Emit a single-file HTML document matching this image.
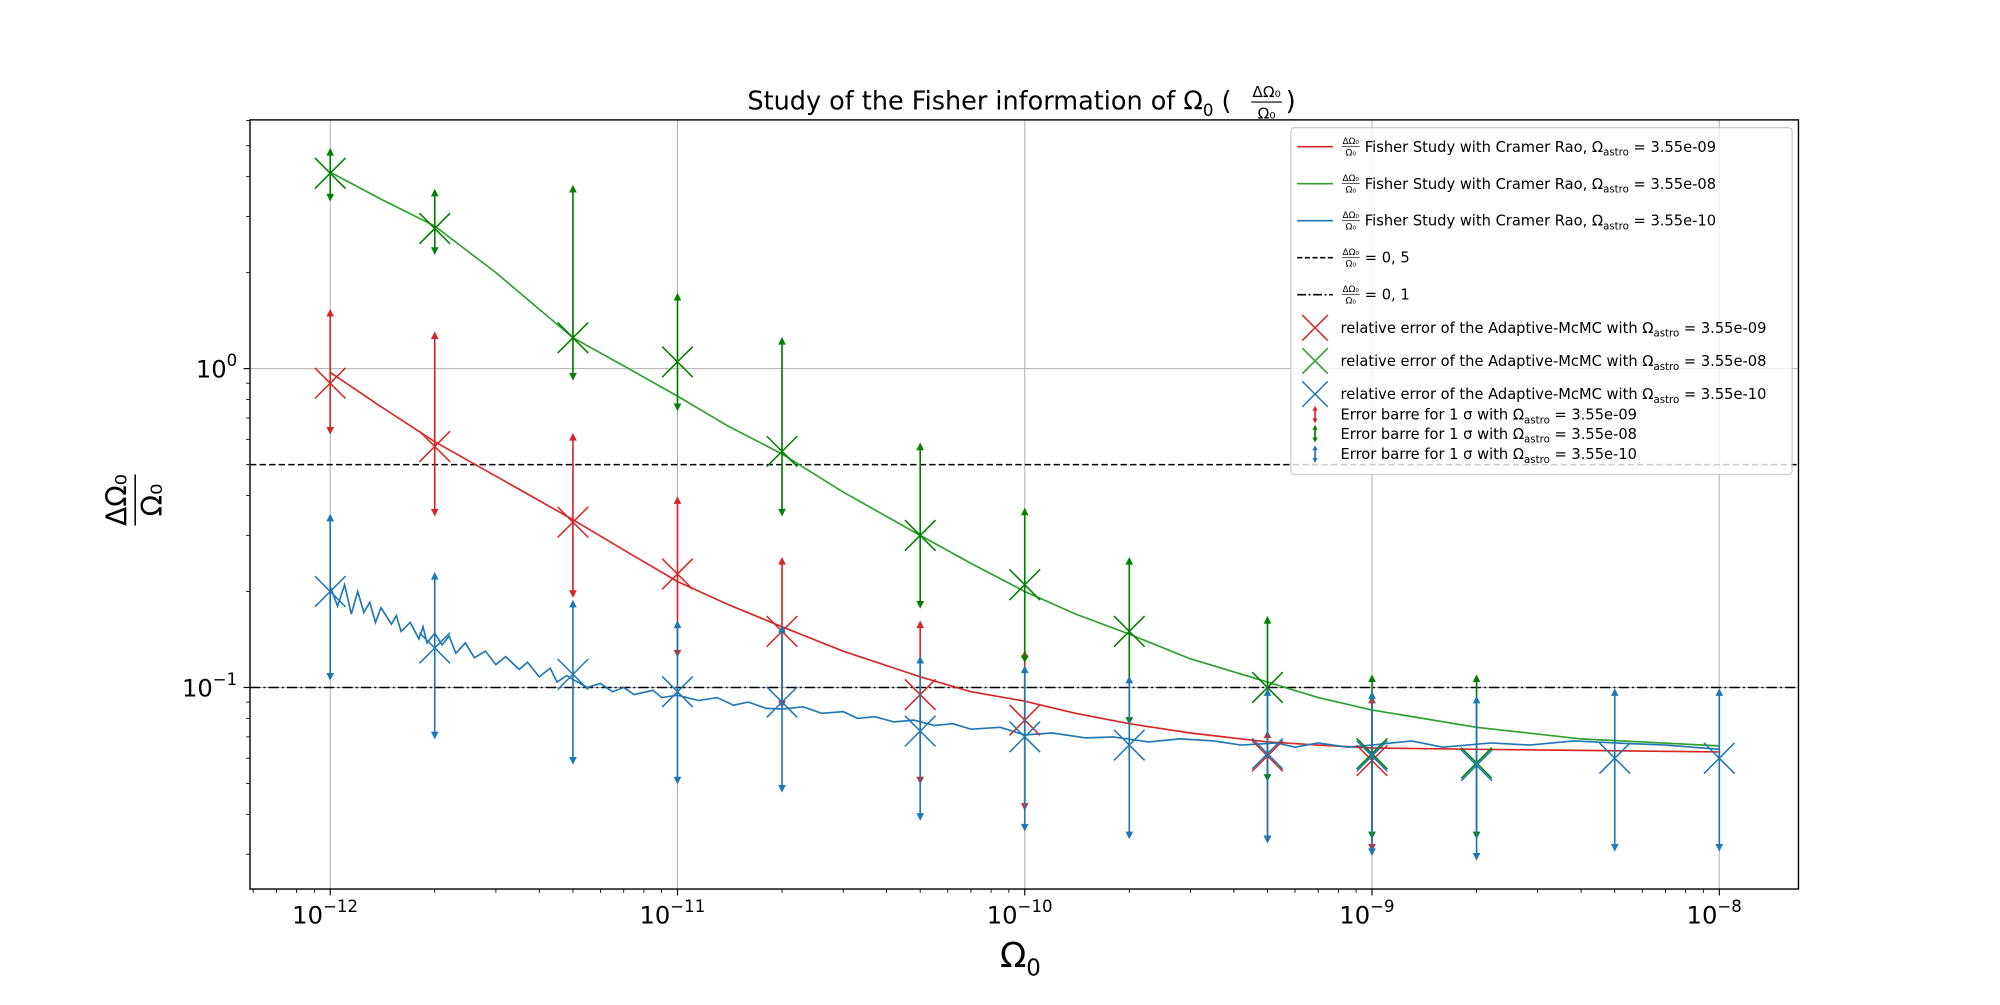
<!DOCTYPE html>
<html><head><meta charset="utf-8"><style>
body{margin:0;background:#fff;}
svg text{font-family:"DejaVu Sans","Liberation Sans",sans-serif;}
</style></head><body>
<svg id="chart" width="2000" height="1000" viewBox="0 0 1568 784" xmlns="http://www.w3.org/2000/svg">
<rect width="1568" height="784" fill="#fff"/>
<g id="grid"></g>
<g id="series"></g>
<rect x="196" y="94" width="1214" height="603" fill="none" stroke="#000" stroke-width="1.1"/>
<g id="axes"></g>
<g>
<text x="586" y="86" font-size="20">Study of the Fisher information of Ω<tspan font-size="13" dy="5">0</tspan><tspan dy="-5"> (</tspan></text>
<text x="993" y="76" font-size="12" text-anchor="middle">ΔΩ₀</text>
<line x1="981" x2="1005" y1="80" y2="80" stroke="#000" stroke-width="0.9"/>
<text x="993" y="93" font-size="12" text-anchor="middle">Ω₀</text>
<text x="1008" y="86" font-size="20">)</text>
</g>
<text x="800" y="758" font-size="27" text-anchor="middle">Ω<tspan font-size="18" dy="7">0</tspan></text>
<g transform="rotate(-90 106 392)">
<text x="106" y="385" font-size="22" text-anchor="middle">ΔΩ₀</text>
<line x1="86" y1="392" x2="126" y2="392" stroke="#000" stroke-width="1.2"/>
<text x="106" y="413" font-size="22" text-anchor="middle">Ω₀</text>
</g>
<g id="legend"></g>
</svg>
<script>
const NS="http://www.w3.org/2000/svg";
const xMinL=-12.231,xMaxL=-7.772,yMinL=-1.632,yMaxL=0.78;
const X0=196,X1=1410,Y0=697,Y1=94;
function sx(v){return X0+(Math.log10(v)-xMinL)/(xMaxL-xMinL)*(X1-X0);}
function sy(v){return Y0-(Math.log10(v)-yMinL)/(yMaxL-yMinL)*(Y0-Y1);}
function mk(tag,attrs,parent){const e=document.createElementNS(NS,tag);for(const k in attrs)e.setAttribute(k,attrs[k]);parent.appendChild(e);return e;}
const C={red:"#d62728",green:"#2ca02c",blue:"#1f77b4"};
const darkC={red:"#d62728",green:"#008000",blue:"#1f77b4"};

// Fisher curves
const curveXRed=[1e-12,1.4e-12,2e-12,3e-12,5e-12,7e-12,1e-11,1.4e-11,2e-11,3e-11,5e-11,7e-11,1e-10,1.4e-10,2e-10,3e-10,5e-10,7e-10,1e-9,2e-9,4e-9,1e-8];
const curveYRed=[0.973,0.76,0.59,0.46,0.336,0.27,0.215,0.182,0.155,0.13,0.108,0.097,0.0906,0.083,0.077,0.072,0.0675,0.066,0.0646,0.064,0.0635,0.0628];
const curveXGreen=[1e-12,1.4e-12,2e-12,3e-12,5e-12,7e-12,1e-11,1.4e-11,2e-11,3e-11,5e-11,7e-11,1e-10,1.4e-10,2e-10,3e-10,5e-10,7e-10,1e-9,2e-9,4e-9,1e-8];
const curveYGreen=[4.13,3.4,2.8,2.0,1.25,1.02,0.82,0.66,0.54,0.41,0.30,0.245,0.20,0.17,0.147,0.123,0.104,0.093,0.085,0.075,0.069,0.0656];
const curveXBlue=[1e-12,1.05e-12,1.1e-12,1.15e-12,1.2e-12,1.25e-12,1.3e-12,1.35e-12,1.4e-12,1.5e-12,1.55e-12,1.6e-12,1.7e-12,1.8e-12,1.85e-12,1.9e-12,2e-12,2.1e-12,2.2e-12,2.3e-12,2.45e-12,2.6e-12,2.8e-12,3e-12,3.2e-12,3.5e-12,3.7e-12,4e-12,4.3e-12,4.5e-12,4.8e-12,5e-12,5.5e-12,6e-12,6.5e-12,7e-12,7.5e-12,8.5e-12,9e-12,1e-11,1.15e-11,1.3e-11,1.45e-11,1.6e-11,1.8e-11,2e-11,2.3e-11,2.6e-11,3e-11,3.3e-11,3.7e-11,4.2e-11,4.8e-11,5.5e-11,6.2e-11,7e-11,8.5e-11,1e-10,1.2e-10,1.5e-10,1.8e-10,2.27e-10,2.8e-10,3.5e-10,4.2e-10,5.3e-10,6e-10,7e-10,8.5e-10,1e-9,1.3e-9,1.6e-9,2.2e-9,2.85e-9,3.8e-9,5e-9,7e-9,1e-8];
const curveYBlue=[0.207,0.18,0.21,0.17,0.2,0.172,0.185,0.16,0.178,0.158,0.168,0.15,0.16,0.142,0.155,0.138,0.148,0.136,0.145,0.128,0.138,0.124,0.13,0.118,0.125,0.114,0.12,0.108,0.115,0.104,0.109,0.106,0.1,0.103,0.097,0.1,0.095,0.098,0.093,0.0946,0.091,0.093,0.088,0.09,0.086,0.0856,0.087,0.083,0.084,0.08,0.081,0.078,0.079,0.076,0.077,0.074,0.075,0.071,0.072,0.0695,0.07,0.0675,0.069,0.068,0.066,0.067,0.065,0.067,0.065,0.066,0.068,0.065,0.067,0.066,0.068,0.067,0.066,0.064];

// MCMC estimates
const ptsX=[1e-12,2e-12,5e-12,1e-11,2e-11,5e-11,1e-10,2e-10,5e-10,1e-9,2e-9,5e-9,1e-8];
const redMid=[0.90,0.57,0.33,0.227,0.15,0.095,0.079,null,0.061,0.059,null,null,null];
const redHi=[1.47,1.25,0.60,0.38,0.245,0.155,0.125,null,0.07,0.09,null,null,null];
const redLo=[0.65,0.36,0.20,0.13,0.09,0.052,0.043,null,0.034,0.032,null,null,null];
const greenMid=[4.1,2.75,1.25,1.05,0.55,0.30,0.21,0.15,0.10,0.062,0.058,null,null];
const greenHi=[4.7,3.5,3.6,1.65,1.2,0.56,0.35,0.245,0.16,0.105,0.105,null,null];
const greenLo=[3.5,2.38,0.96,0.77,0.36,0.185,0.125,0.08,0.053,0.035,0.035,null,null];
const blueMid=[0.20,0.133,0.11,0.097,0.09,0.073,0.07,0.066,0.062,0.061,0.057,0.06,0.06];
const blueHi=[0.335,0.22,0.18,0.155,0.15,0.12,0.112,0.104,0.095,0.093,0.09,0.095,0.095];
const blueLo=[0.11,0.072,0.06,0.052,0.049,0.04,0.037,0.035,0.034,0.031,0.03,0.032,0.032];

const xMajor=[1e-12,1e-11,1e-10,1e-9,1e-8];
const xMajorExp=["−12","−11","−10","−9","−8"];
const yMajor=[1,0.1];
const yMajorLbl=["0","−1"];

const grid=document.getElementById('grid'),axes=document.getElementById('axes'),ser=document.getElementById('series');
xMajor.forEach((v,i)=>{
  const x=sx(v);
  const g=mk('line',{x1:x,x2:x,y1:Y1,y2:Y0,stroke:"#b0b0b0","stroke-width":0.8},grid);
  
  mk('line',{x1:x,x2:x,y1:Y0,y2:Y0+5,stroke:"#000","stroke-width":0.9},axes);
  const t=mk('text',{x:x-4,y:Y0+27,"font-size":19,"text-anchor":"middle"},axes);
  
  t.innerHTML='10<tspan font-size="13" dy="-9">'+xMajorExp[i]+'</tspan>';
});
for(let d=-13;d<=-8;d++){for(let m=2;m<=9;m++){const v=m*Math.pow(10,d);const x=sx(v);if(x<X0||x>X1)continue;mk('line',{x1:x,x2:x,y1:Y0,y2:Y0+3,stroke:"#000","stroke-width":0.7},axes);}}
for(let d=-2;d<=0;d++){for(let m=2;m<=9;m++){const v=m*Math.pow(10,d);const y=sy(v);if(y<Y1||y>Y0)continue;mk('line',{x1:X0-3,x2:X0,y1:y,y2:y,stroke:"#000","stroke-width":0.7},axes);}}
yMajor.forEach((v,i)=>{
  const y=sy(v);
  const g=mk('line',{x1:X0,x2:X1,y1:y,y2:y,stroke:"#b0b0b0","stroke-width":0.8},grid);
  
  mk('line',{x1:X0-5,x2:X0,y1:y,y2:y,stroke:"#000","stroke-width":0.9},axes);
  const t=mk('text',{x:X0-10,y:y+7,"font-size":19,"text-anchor":"end"},axes);
  
  t.innerHTML='10<tspan font-size="13" dy="-9">'+yMajorLbl[i]+'</tspan>';
});
const h1=mk('line',{x1:X0,x2:X1,y1:sy(0.5),y2:sy(0.5),stroke:"#000","stroke-width":1.2,"stroke-dasharray":"5,2.5"},ser);

const h2=mk('line',{x1:X0,x2:X1,y1:sy(0.1),y2:sy(0.1),stroke:"#000","stroke-width":1.2,"stroke-dasharray":"8,2.5,1.5,2.5"},ser);


function curve(xs,ys,col,name){
  const p=mk('polyline',{points:xs.map((v,i)=>sx(v)+','+sy(ys[i])).join(' '),fill:"none",stroke:col,"stroke-width":1.3},ser);
  
}
curve(curveXRed,curveYRed,C.red,'fisher-curve-red');
curve(curveXGreen,curveYGreen,C.green,'fisher-curve-green');
curve(curveXBlue,curveYBlue,C.blue,'fisher-curve-blue');

function tri(x,y,up,col){const s=3;const d=up?`M${x-s},${y+1} L${x+s},${y+1} L${x},${y-5}Z`:`M${x-s},${y-1} L${x+s},${y-1} L${x},${y+5}Z`;mk('path',{d:d,fill:col},ser);}
function points(mid,hi,lo,col,name){
  ptsX.forEach((v,i)=>{
    if(mid[i]==null)return;
    const x=sx(v);
    const l=mk('line',{x1:x,x2:x,y1:sy(hi[i]),y2:sy(lo[i]),stroke:col,"stroke-width":1.3},ser);
    
    tri(x,sy(hi[i]),true,col);tri(x,sy(lo[i]),false,col);
    const y=sy(mid[i]),s=12;
    const m=mk('path',{d:`M${x-s},${y-s} L${x+s},${y+s} M${x-s},${y+s} L${x+s},${y-s}`,stroke:col,"stroke-width":1.2,fill:"none"},ser);
    
  });
}
points(redMid,redHi,redLo,C.red,'mcmc-red');
points(greenMid,greenHi,greenLo,darkC.green,'mcmc-green');
points(blueMid,blueHi,blueLo,C.blue,'mcmc-blue');

// legend
const lg=document.getElementById('legend');
const box=mk('rect',{x:1012,y:100,width:393,height:272,rx:3,fill:"#fff","fill-opacity":0.8,stroke:"#ccc"},lg);

const sub='Ω<tspan font-size="8" dy="3">astro</tspan><tspan dy="-3"> = ';
const entries=[
 {y:115,t:'line',c:C.red,f:true,txt:'Fisher Study with Cramer Rao, '+sub+'3.55e-09</tspan>'},
 {y:144,t:'line',c:C.green,f:true,txt:'Fisher Study with Cramer Rao, '+sub+'3.55e-08</tspan>'},
 {y:173,t:'line',c:C.blue,f:true,txt:'Fisher Study with Cramer Rao, '+sub+'3.55e-10</tspan>'},
 {y:202,t:'dash',c:"#000",f:true,txt:'= 0, 5'},
 {y:231,t:'dashdot',c:"#000",f:true,txt:'= 0, 1'},
 {y:257,t:'x',c:C.red,txt:'relative error of the Adaptive-McMC with '+sub+'3.55e-09</tspan>'},
 {y:283,t:'x',c:C.green,txt:'relative error of the Adaptive-McMC with '+sub+'3.55e-08</tspan>'},
 {y:309,t:'x',c:C.blue,txt:'relative error of the Adaptive-McMC with '+sub+'3.55e-10</tspan>'},
 {y:325,t:'eb',c:C.red,txt:'Error barre for 1 σ with '+sub+'3.55e-09</tspan>'},
 {y:340,t:'eb',c:darkC.green,txt:'Error barre for 1 σ with '+sub+'3.55e-08</tspan>'},
 {y:356,t:'eb',c:C.blue,txt:'Error barre for 1 σ with '+sub+'3.55e-10</tspan>'}
];
entries.forEach(e=>{
  const g=mk('g',{},lg);
  
  if(e.t==='line')mk('line',{x1:1017,x2:1045,y1:e.y,y2:e.y,stroke:e.c,"stroke-width":1.3},g);
  if(e.t==='dash')mk('line',{x1:1017,x2:1045,y1:e.y,y2:e.y,stroke:e.c,"stroke-width":1.3,"stroke-dasharray":"4,2"},g);
  if(e.t==='dashdot')mk('line',{x1:1017,x2:1045,y1:e.y,y2:e.y,stroke:e.c,"stroke-width":1.3,"stroke-dasharray":"7,2,1.5,2"},g);
  if(e.t==='x'){const x=1031,s=10;mk('path',{d:`M${x-s},${e.y-s} L${x+s},${e.y+s} M${x-s},${e.y+s} L${x+s},${e.y-s}`,stroke:e.c,"stroke-width":1.2,fill:"none"},g);}
  if(e.t==='eb'){mk('line',{x1:1031,x2:1031,y1:e.y-5,y2:e.y+5,stroke:e.c,"stroke-width":1.3},g);mk('path',{d:`M1029,${e.y-3} L1033,${e.y-3} L1031,${e.y-7}Z M1029,${e.y+3} L1033,${e.y+3} L1031,${e.y+7}Z`,fill:e.c},g);}
  let tx=1051;
  if(e.f){
    mk('text',{x:1059,y:e.y-2,"font-size":7,"text-anchor":"middle"},g).textContent='ΔΩ₀';
    mk('line',{x1:1052,x2:1066,y1:e.y,y2:e.y,stroke:"#000","stroke-width":0.5},g);
    mk('text',{x:1059,y:e.y+7,"font-size":7,"text-anchor":"middle"},g).textContent='Ω₀';
    tx=1070;
  }
  const t=mk('text',{x:tx,y:e.y+4,"font-size":11.5},g);
  t.innerHTML=e.txt;
});
</script>
</body></html>
